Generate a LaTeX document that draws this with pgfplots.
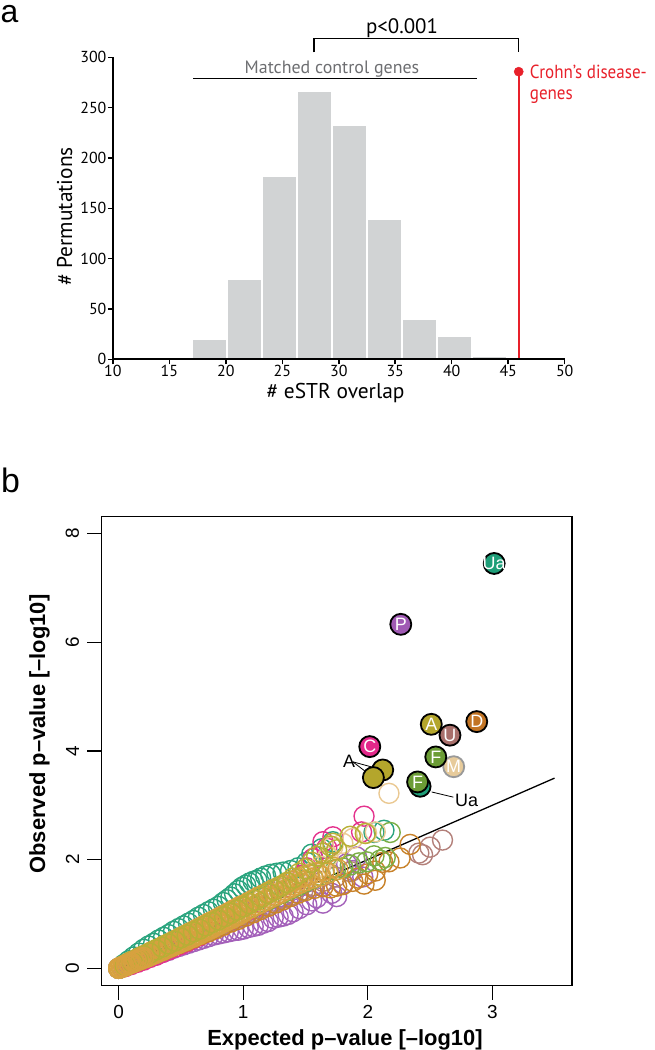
\documentclass[border=0pt]{standalone}
\usepackage{fontspec}
\setmainfont{Liberation Sans}
\newfontfamily\ptsans{PT Sans}
\newfontfamily\ptsansn{PT Sans}[FakeStretch=0.9]
\usepackage{pgfplots}
\pgfplotsset{compat=1.18}
\definecolor{bargray}{HTML}{D1D3D4}
\definecolor{cred}{HTML}{E8202A}
\definecolor{cgraytxt}{HTML}{6D6E71}
\definecolor{cteal}{HTML}{2AA47E}
\definecolor{cpurple}{HTML}{A461BA}
\definecolor{cpink}{HTML}{E4338D}
\definecolor{cgold}{HTML}{D7A13F}
\definecolor{colive}{HTML}{B7AF35}
\definecolor{corange}{HTML}{C8822A}
\definecolor{crose}{HTML}{B3807A}
\definecolor{cgreen}{HTML}{7BAE45}
\definecolor{cbeige}{HTML}{EAC993}
\definecolor{fUa}{HTML}{1E9E78}
\definecolor{fP}{HTML}{A05AB4}
\definecolor{fC}{HTML}{E2288A}
\definecolor{fA}{HTML}{B4A62C}
\definecolor{fU}{HTML}{A86F6B}
\definecolor{fD}{HTML}{C27424}
\definecolor{fF}{HTML}{6B9C35}
\definecolor{fM}{HTML}{E7CB9B}
\pgfplotsset{
  oc/.style={only marks, mark=o, mark size=10bp, color=#1, mark options={line width=1.4bp, solid}},
  fc/.style 2 args={only marks, mark=*, mark size=10.5bp, mark options={fill=#1, draw=#2, line width=1.8bp},
    point meta=explicit symbolic, nodes near coords,
    every node near coord/.style={anchor=center, text=white, inner sep=0pt, font=\fontsize{18}{18}\selectfont}},
}
\begin{document}
\begin{tikzpicture}
\path[use as bounding box] (0,0) rectangle (655bp,1050bp);
\node[anchor=base west, inner sep=0pt, font=\fontsize{32}{32}\selectfont] at (0.5bp,1027bp) {a};
\node[anchor=base west, inner sep=0pt, font=\fontsize{34}{34}\selectfont] at (1bp,557bp) {b};

% ---------------- panel a ----------------
\begin{axis}[
  at={(112.8bp,690.7bp)}, anchor=south west,
  scale only axis, width=451.9bp, height=302bp,
  xmin=10, xmax=50, ymin=0, ymax=300,
  axis x line=bottom, axis y line=left,
  axis line style={-, line width=1.8bp},
  xtick={10,15,...,50}, ytick={0,50,...,300},
  tick align=outside, major tick length=5bp,
  tick style={line width=1.5bp, black},
  tick label style={font=\ptsans\fontsize{16}{16}\selectfont, inner sep=0pt},
  yticklabel style={xshift=-1.2bp},
  xticklabel style={yshift=-0.8bp},
  /pgf/number format/assume math mode=true,
  clip=false, axis on top,
]
\addplot[ybar, bar width=3.1, fill=bargray, draw=white, line width=2.2bp] coordinates {
 (15.45,2) (18.55,20) (21.65,80) (24.75,182) (27.85,267) (30.95,233) (34.05,139) (37.15,40) (40.25,23) (43.35,3)};
\addplot[cred, line width=2bp] coordinates {(45.93,0) (45.93,285.7)};
\addplot[only marks, mark=*, mark size=4.6bp, cred] coordinates {(45.93,285.7)};
\addplot[black, line width=1.5bp] coordinates {(17.1,278.7) (42.2,278.7)};
\addplot[black, line width=1.5bp] coordinates {(27.82,305) (27.82,318.9) (45.93,318.9) (45.93,305)};
\node[anchor=base, font=\ptsans\fontsize{18}{18}\selectfont, text=cgraytxt, inner sep=0pt] at (axis cs:29.4,284.1) {Matched control genes};
\node[anchor=base, font=\ptsans\fontsize{21}{21}\selectfont, inner sep=0pt] at (axis cs:35.6,323.8) {p<0.001};
\node[anchor=base west, font=\ptsansn\fontsize{19}{19}\selectfont, text=cred, inner sep=0pt] at (axis cs:46.9,279) {Crohn’s disease-};
\node[anchor=base west, font=\ptsansn\fontsize{19}{19}\selectfont, text=cred, inner sep=0pt] at (axis cs:46.9,257.6) {genes};
\end{axis}
\node[anchor=base, font=\ptsans\fontsize{21.5}{21.5}\selectfont, inner sep=0pt] at (335.5bp,651.5bp) {\# eSTR overlap};
\node[anchor=base, rotate=90, font=\ptsans\fontsize{21.5}{21.5}\selectfont, inner sep=0pt] at (72bp,833.5bp) {\# Permutations};

% ---------------- panel b ----------------
\begin{axis}[
  at={(101.3bp,64.3bp)}, anchor=south west,
  scale only axis, width=470.7bp, height=469.5bp,
  xmin=-0.14, xmax=3.64, ymin=-0.32, ymax=8.32,
  xtick={0,1,2,3}, ytick={0,2,4,6,8},
  xtick pos=left, ytick pos=left,
  tick align=outside, major tick length=14bp,
  axis line style={line width=1.3bp},
  tick style={line width=1.3bp, black},
  tick label style={font=\fontsize{19}{19}\selectfont},
  yticklabel={\rotatebox{90}{\pgfmathprintnumber{\tick}}},
  yticklabel style={anchor=east, inner sep=0pt, xshift=-8bp},
  xticklabel style={anchor=north, inner sep=0pt, yshift=-5.5bp},
  /pgf/number format/assume math mode=true,
]
\addplot[oc=cteal] coordinates {
(0.00,0.00) (0.04,0.07) (0.08,0.14) (0.12,0.21) (0.16,0.28) (0.20,0.35) (0.24,0.41) (0.28,0.46) (0.32,0.52) (0.36,0.57)
(0.40,0.62) (0.44,0.68) (0.48,0.73) (0.52,0.78) (0.56,0.83) (0.60,0.88) (0.64,0.94) (0.68,0.99) (0.72,1.04) (0.76,1.09)
(0.80,1.14) (0.84,1.21) (0.87,1.26) (0.90,1.31) (0.93,1.37) (0.96,1.43) (0.99,1.49) (1.02,1.53) (1.05,1.57) (1.08,1.60)
(1.11,1.62) (1.14,1.66) (1.18,1.70) (1.22,1.73) (1.27,1.75) (1.32,1.77) (1.38,1.80) (1.44,1.85) (1.51,1.95) (1.55,2.10)
(1.63,2.20) (1.72,2.33) (2.05,2.50) (2.13,2.54)};
\addplot[oc=cpurple] coordinates {
(0.00,0.00) (0.04,0.03) (0.08,0.06) (0.12,0.10) (0.16,0.13) (0.20,0.17) (0.24,0.20) (0.28,0.23) (0.32,0.27) (0.36,0.30)
(0.40,0.33) (0.44,0.37) (0.48,0.40) (0.52,0.43) (0.56,0.46) (0.60,0.49) (0.64,0.52) (0.68,0.55) (0.72,0.58) (0.76,0.61)
(0.80,0.63) (0.84,0.65) (0.88,0.67) (0.92,0.69) (0.96,0.70) (1.00,0.72) (1.04,0.75) (1.08,0.77) (1.12,0.79) (1.16,0.83)
(1.20,0.86) (1.24,0.92) (1.28,0.94) (1.32,0.96) (1.36,0.99) (1.40,1.04) (1.45,1.10) (1.51,1.17) (1.55,1.24) (1.59,1.30)
(1.64,1.20) (1.71,1.38) (1.75,1.32) (1.80,1.56) (1.83,1.92) (1.88,1.80) (1.91,2.05) (1.96,1.68)};
\addplot[oc=cpink] coordinates {
(0.00,0.00) (0.05,0.03) (0.10,0.07) (0.15,0.11) (0.20,0.15) (0.25,0.20) (0.30,0.24) (0.35,0.29) (0.40,0.34) (0.45,0.39)
(0.50,0.44) (0.55,0.49) (0.60,0.55) (0.65,0.60) (0.70,0.66) (0.75,0.71) (0.80,0.77) (0.85,0.83) (0.90,0.89) (0.95,0.95)
(1.00,1.01) (1.05,1.08) (1.10,1.14) (1.15,1.21) (1.20,1.28) (1.25,1.35) (1.30,1.42) (1.36,1.50) (1.42,1.58) (1.48,1.72)
(1.51,1.85) (1.56,2.02) (1.64,2.33) (1.67,2.21) (1.72,2.42) (1.95,2.51) (1.97,2.80)};
\addplot[oc=crose] coordinates {
(0.00,0.00) (0.06,0.05) (0.12,0.11) (0.18,0.17) (0.24,0.23) (0.30,0.28) (0.36,0.34) (0.42,0.40) (0.48,0.46) (0.54,0.52)
(0.60,0.58) (0.66,0.64) (0.72,0.69) (0.78,0.75) (0.84,0.81) (0.90,0.87) (0.96,0.93) (1.02,0.99) (1.08,1.05) (1.14,1.11)
(1.20,1.17) (1.26,1.23) (1.32,1.29) (1.40,1.36) (1.48,1.44) (1.56,1.52) (1.64,1.60) (1.74,1.68) (1.86,1.78) (2.41,2.12)
(2.44,2.09) (2.50,2.23) (2.60,2.36)};
\addplot[oc=corange] coordinates {
(0.00,0.00) (0.06,0.05) (0.12,0.11) (0.18,0.16) (0.24,0.22) (0.30,0.28) (0.36,0.33) (0.42,0.39) (0.48,0.45) (0.54,0.50)
(0.60,0.56) (0.66,0.62) (0.72,0.67) (0.78,0.73) (0.84,0.79) (0.90,0.85) (0.96,0.90) (1.02,0.96) (1.08,1.02) (1.14,1.08)
(1.20,1.14) (1.26,1.20) (1.32,1.26) (1.38,1.32) (1.44,1.38) (1.50,1.43) (1.57,1.47) (1.64,1.50) (1.70,1.48) (1.75,1.51)
(1.80,1.54) (1.88,1.60) (1.92,1.66) (1.97,1.55) (2.00,1.74) (2.06,1.62) (2.06,1.79) (2.12,1.95) (2.17,1.96) (2.26,2.03)
(2.34,2.28)};
\addplot[oc=cgreen] coordinates {
(0.00,0.00) (0.06,0.06) (0.12,0.13) (0.18,0.19) (0.24,0.25) (0.30,0.31) (0.36,0.38) (0.42,0.44) (0.48,0.50) (0.54,0.57)
(0.60,0.63) (0.66,0.69) (0.72,0.75) (0.78,0.82) (0.84,0.88) (0.90,0.94) (0.96,1.01) (1.02,1.07) (1.08,1.13) (1.14,1.20)
(1.20,1.26) (1.26,1.33) (1.32,1.39) (1.38,1.46) (1.44,1.52) (1.50,1.59) (1.56,1.65) (1.62,1.71) (1.68,1.76) (1.74,1.81)
(1.80,1.85) (1.86,1.90) (1.93,1.94) (1.99,1.96) (2.05,2.07) (2.10,1.99) (2.14,2.04) (2.18,2.50)};
\addplot[oc=cbeige] coordinates {
(0.00,0.00) (0.06,0.07) (0.12,0.13) (0.18,0.20) (0.24,0.26) (0.30,0.33) (0.36,0.39) (0.42,0.46) (0.48,0.52) (0.54,0.59)
(0.60,0.65) (0.66,0.72) (0.72,0.78) (0.78,0.85) (0.84,0.91) (0.90,0.98) (0.96,1.05) (1.02,1.11) (1.08,1.18) (1.14,1.25)
(1.20,1.31) (1.26,1.38) (1.32,1.45) (1.38,1.52) (1.44,1.60) (1.50,1.68) (1.56,1.77) (1.62,1.88) (1.68,2.05) (1.72,2.24)
(1.80,2.30) (1.88,2.39) (1.99,2.49) (2.06,2.51) (2.17,3.22)};
\addplot[oc=cgold] coordinates {
(0.00,0.00) (0.01,0.01) (0.02,0.03) (0.03,0.02) (0.04,0.05) (0.05,0.04) (0.06,0.07) (0.07,0.06) (0.08,0.10) (0.09,0.08)
(0.10,0.12) (0.11,0.10) (0.12,0.14) (0.13,0.12) (0.14,0.16) (0.15,0.14) (0.16,0.19) (0.17,0.16) (0.18,0.21) (0.19,0.18)
(0.20,0.23) (0.21,0.19) (0.22,0.25) (0.23,0.21) (0.24,0.27) (0.25,0.23) (0.26,0.30) (0.27,0.25) (0.28,0.32) (0.29,0.27)
(0.30,0.34) (0.31,0.29) (0.32,0.36) (0.33,0.31) (0.34,0.38) (0.35,0.33) (0.36,0.41) (0.37,0.35) (0.38,0.43) (0.39,0.37)
(0.40,0.45) (0.41,0.39) (0.42,0.47) (0.43,0.41) (0.44,0.50) (0.45,0.43) (0.46,0.52) (0.47,0.45) (0.48,0.54) (0.49,0.47)
(0.50,0.57) (0.51,0.49) (0.52,0.59) (0.53,0.51) (0.54,0.61) (0.55,0.53) (0.56,0.64) (0.57,0.55) (0.58,0.66) (0.59,0.57)
(0.60,0.68) (0.61,0.59) (0.62,0.71) (0.63,0.61) (0.64,0.73) (0.65,0.63) (0.66,0.75) (0.67,0.66) (0.68,0.78) (0.69,0.68)
(0.70,0.80) (0.71,0.70) (0.72,0.83) (0.73,0.72) (0.74,0.85) (0.75,0.74) (0.76,0.87) (0.77,0.77) (0.78,0.90) (0.79,0.79)
(0.80,0.92) (0.81,0.81) (0.82,0.95) (0.83,0.83) (0.84,0.97) (0.85,0.86) (0.86,0.99) (0.87,0.88) (0.88,1.02) (0.89,0.90)
(0.90,1.04) (0.91,0.92) (0.92,1.07) (0.93,0.95) (0.94,1.09) (0.95,0.97) (0.96,1.12) (0.97,0.99) (0.98,1.14) (0.99,1.02)
(1.00,1.16) (1.02,1.06) (1.04,1.21) (1.06,1.11) (1.08,1.26) (1.10,1.16) (1.12,1.31) (1.14,1.20) (1.16,1.35) (1.18,1.25)
(1.20,1.40) (1.22,1.30) (1.24,1.45) (1.26,1.34) (1.28,1.49) (1.30,1.39) (1.32,1.53) (1.34,1.44) (1.36,1.57) (1.38,1.48)
(1.40,1.61) (1.42,1.53) (1.44,1.65) (1.46,1.57) (1.48,1.69) (1.50,1.61) (1.53,1.72) (1.56,1.66) (1.59,1.76) (1.62,1.70)
(1.65,1.80) (1.68,1.75) (1.72,1.86) (1.76,1.82)};
\addplot[oc=colive] coordinates {
(0.05,0.06) (0.10,0.12) (0.15,0.17) (0.20,0.23) (0.25,0.28) (0.30,0.34) (0.35,0.39) (0.40,0.45) (0.45,0.50)
(0.50,0.56) (0.55,0.61) (0.60,0.67) (0.65,0.72) (0.70,0.78) (0.75,0.84) (0.80,0.89) (0.85,0.95) (0.90,1.01) (0.95,1.07)
(1.00,1.13) (1.05,1.19) (1.10,1.25) (1.15,1.31) (1.20,1.38) (1.25,1.44) (1.30,1.51) (1.35,1.58) (1.40,1.66) (1.45,1.75)
(1.50,1.83) (1.55,1.95) (1.59,2.06) (1.64,2.12) (1.70,2.25) (1.75,2.18) (1.72,2.30) (1.86,2.43) (1.98,2.48)};
\addplot[oc=cgold] coordinates {(0.00,0.00) (0.02,0.02) (0.04,0.04) (0.06,0.06) (0.08,0.08) (0.10,0.10) (0.12,0.12) (0.14,0.14) (0.16,0.16) (0.18,0.18) (0.20,0.20)};
\addplot[black, line width=1.3bp] coordinates {(0,0) (3.5,3.5)};
% annotation leaders
\draw[line width=0.8bp] (axis cs:1.88,3.80) -- (axis cs:2.12,3.65);
\draw[line width=0.8bp] (axis cs:1.88,3.80) -- (axis cs:2.045,3.51);
\draw[line width=0.8bp] (axis cs:2.513,3.245) -- (axis cs:2.687,3.15);
% labelled points
\addplot[fc={fUa}{black}] coordinates {(2.42,3.35) []};
\addplot[fc={fF}{black}] coordinates {(2.40,3.43) [F]};
\addplot[fc={fA}{black}] coordinates {(2.12,3.65) []};
\addplot[fc={fA}{black}] coordinates {(2.045,3.51) []};
\addplot[fc={fC}{black}] coordinates {(2.016,4.08) [C]};
\addplot[fc={fM}{gray!80}] coordinates {(2.69,3.71) [M]};
\addplot[fc={fF}{black}] coordinates {(2.546,3.89) [F]};
\addplot[fc={fA}{black}] coordinates {(2.51,4.49) [A]};
\addplot[fc={fU}{black}] coordinates {(2.66,4.29) [U]};
\addplot[fc={fD}{black}] coordinates {(2.875,4.54) [D]};
\addplot[fc={fP}{black}] coordinates {(2.265,6.33) [P]};
\addplot[fc={fUa}{black}] coordinates {(3.015,7.45) [Ua]};
\node[anchor=base west, inner sep=0pt, font=\fontsize{18}{18}\selectfont] at (axis cs:1.80,3.69) {A};
\node[anchor=base west, inner sep=0pt, font=\fontsize{18}{18}\selectfont] at (axis cs:2.70,2.97) {Ua};
\end{axis}
\node[anchor=base, inner sep=0pt, font=\bfseries\fontsize{22}{22}\selectfont] at (345bp,5bp) {Expected p–value [–log10]};
\node[anchor=base, rotate=90, inner sep=0pt, font=\bfseries\fontsize{22}{22}\selectfont] at (45bp,316bp) {Observed p–value [–log10]};
\end{tikzpicture}
\end{document}
